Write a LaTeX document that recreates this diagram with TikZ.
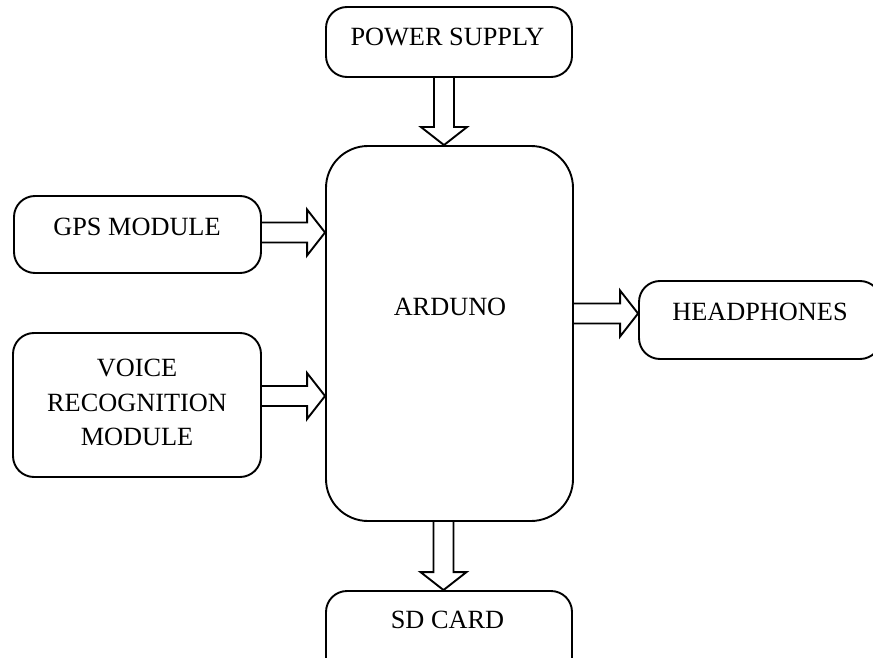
\documentclass[tikz,border=0pt]{standalone}
\usepackage{fontspec}
\setmainfont{Liberation Serif}
\usetikzlibrary{calc}
\begin{document}
\begin{tikzpicture}[x=1pt,y=-1pt,
  box/.style={draw, line width=1.9pt, rounded corners=21pt, inner sep=0pt},
  lbl/.style={font=\fontsize{26.3}{34.5}\selectfont, inner sep=0pt, align=center},
  blkdown/.style={line width=1.9pt, to path={let \p1=(\tikztostart), \p2=(\tikztotarget) in
     (\x1-10pt,\y1) -- (\x1-10pt,\y2+18pt) -- (\x1-23pt,\y2+18pt) -- (\x1,\y2)
     -- (\x1+23pt,\y2+18pt) -- (\x1+10pt,\y2+18pt) -- (\x1+10pt,\y1)}},
  blkright/.style={line width=1.9pt, to path={let \p1=(\tikztostart), \p2=(\tikztotarget) in
     (\x1,\y1+10pt) -- (\x2-18pt,\y1+10pt) -- (\x2-18pt,\y1+23pt) -- (\x2,\y1)
     -- (\x2-18pt,\y1-23pt) -- (\x2-18pt,\y1-10pt) -- (\x1,\y1-10pt)}}]
\useasboundingbox (0,0) rectangle (873,658);
\clip (0,0) rectangle (873,658);
% boxes
\node[box, minimum width=246pt, minimum height=70pt] (power) at (449,42) {};
\node[box, rounded corners=42pt, minimum width=247pt, minimum height=375pt] (ard) at (449.5,333.5) {};
\node[box, minimum width=247pt, minimum height=77pt] (gps) at (137.5,234.5) {};
\node[box, minimum width=248pt, minimum height=144pt] (voice) at (137,405) {};
\node[box, minimum width=242pt, minimum height=78pt] (head) at (760,320) {};
\node[box, minimum width=246pt, minimum height=88pt] (sd) at (449,635) {};
% labels
\node[lbl] (powert) at (447.5,37) {POWER SUPPLY};
\node[lbl] (ardt) at (450,307) {ARDUNO};
\node[lbl] (gpst) at (137,227) {GPS MODULE};
\node[lbl] (voicet) at (137,402.5) {VOICE\\RECOGNITION\\MODULE};
\node[lbl] (headt) at (760,312) {HEADPHONES};
\node[lbl] (sdt) at (447.5,620) {SD CARD};
% block arrows
\draw[blkdown] ($(power.south)+(-5,0)$) to ($(ard.north)+(-5,0)$);
\draw[blkright] ($(gps.east)+(0,-2)$) to (ard.west);
\draw[blkright] ($(voice.east)+(0,-9)$) to (ard.west);
\draw[blkright] ($(ard.east)+(0,-20)$) to (head.west);
\draw[blkdown] ($(ard.south)+(-6,0)$) to (sd.north);
\end{tikzpicture}
\end{document}
